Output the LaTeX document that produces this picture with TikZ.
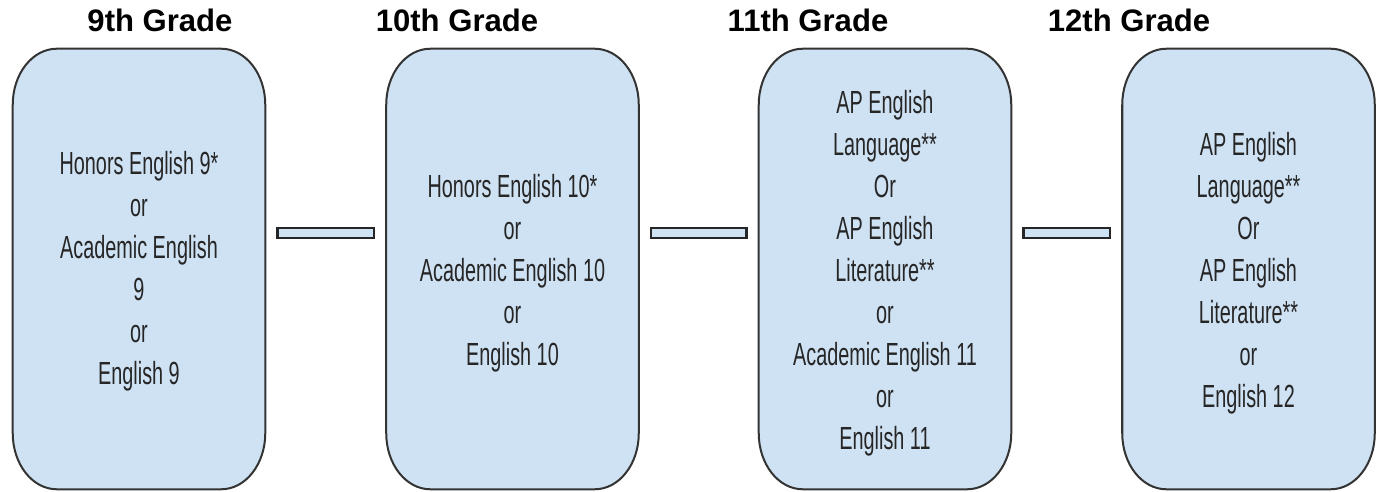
\documentclass[tikz,border=0pt]{standalone}
\usepackage{fontspec}
\setmainfont{Liberation Sans}
\newfontfamily\coursefont[FakeStretch=0.62]{Liberation Sans}
\usepackage{tikz}
\usetikzlibrary{positioning}

\definecolor{boxblue}{HTML}{CFE2F3}
\definecolor{edgegray}{HTML}{333333}

\begin{document}
\begin{tikzpicture}[x=0.75pt,y=-0.75pt,
  gradebox/.style={minimum width=189pt,minimum height=330pt,inner sep=0pt},
  boxedge/.style={draw=edgegray,fill=boxblue,line width=1.5pt},
  coursetext/.style={align=center,inner sep=0pt,text=black!85,
    font=\coursefont\fontsize{24pt}{31.5pt}\selectfont},
  gradelabel/.style={anchor=base,inner sep=0pt,font=\bfseries\fontsize{23.3pt}{28pt}\selectfont},
  link/.style={draw=black!85,line width=2pt,double=boxblue,double distance=5.5pt,
    line cap=rect,shorten <=13pt,shorten >=13pt}]
  \useasboundingbox (0,0) rectangle (1384,492);
  \node[gradelabel] (t9) at (160,32) {9th Grade};
  \node[gradelabel] (t10) at (457,32) {10th Grade};
  \node[gradelabel] (t11) at (808,32) {11th Grade};
  \node[gradelabel] (t12) at (1129,32) {12th Grade};
  \node[gradebox] (g9) at (139,269) {};
  \node[gradebox] (g10) at (512.5,269) {};
  \node[gradebox] (g11) at (885,269) {};
  \node[gradebox] (g12) at (1248.5,269) {};
  \foreach \g in {g9,g10,g11,g12}
    \path[boxedge] ([xshift=-33pt]\g.north east)
      arc[start angle=90,end angle=0,x radius=33pt,y radius=42pt]
      -- ([yshift=42pt]\g.south east)
      arc[start angle=0,end angle=-90,x radius=33pt,y radius=42pt]
      -- ([xshift=33pt]\g.south west)
      arc[start angle=270,end angle=180,x radius=33pt,y radius=42pt]
      -- ([yshift=-42pt]\g.north west)
      arc[start angle=180,end angle=90,x radius=33pt,y radius=42pt]
      -- cycle;
  \node[coursetext] (c9) at ([yshift=-2pt]g9.center) {Honors English 9*\\or\\Academic English\\9\\or\\English 9};
  \node[coursetext] (c10) at ([yshift=-3.5pt]g10.center) {Honors English 10*\\or\\Academic English 10\\or\\English 10};
  \node[coursetext] (c11) at ([yshift=-3.5pt]g11.center) {AP English\\Language**\\Or\\AP English\\Literature**\\or\\Academic English 11\\or\\English 11};
  \node[coursetext] (c12) at ([yshift=-3.5pt]g12.center) {AP English\\Language**\\Or\\AP English\\Literature**\\or\\English 12};
  \draw[link] ([yshift=27pt]g9.east) -- ([yshift=27pt]g10.west);
  \draw[link] ([yshift=27pt]g10.east) -- ([yshift=27pt]g11.west);
  \draw[link] ([yshift=27pt]g11.east) -- ([yshift=27pt]g12.west);
\end{tikzpicture}
\end{document}
